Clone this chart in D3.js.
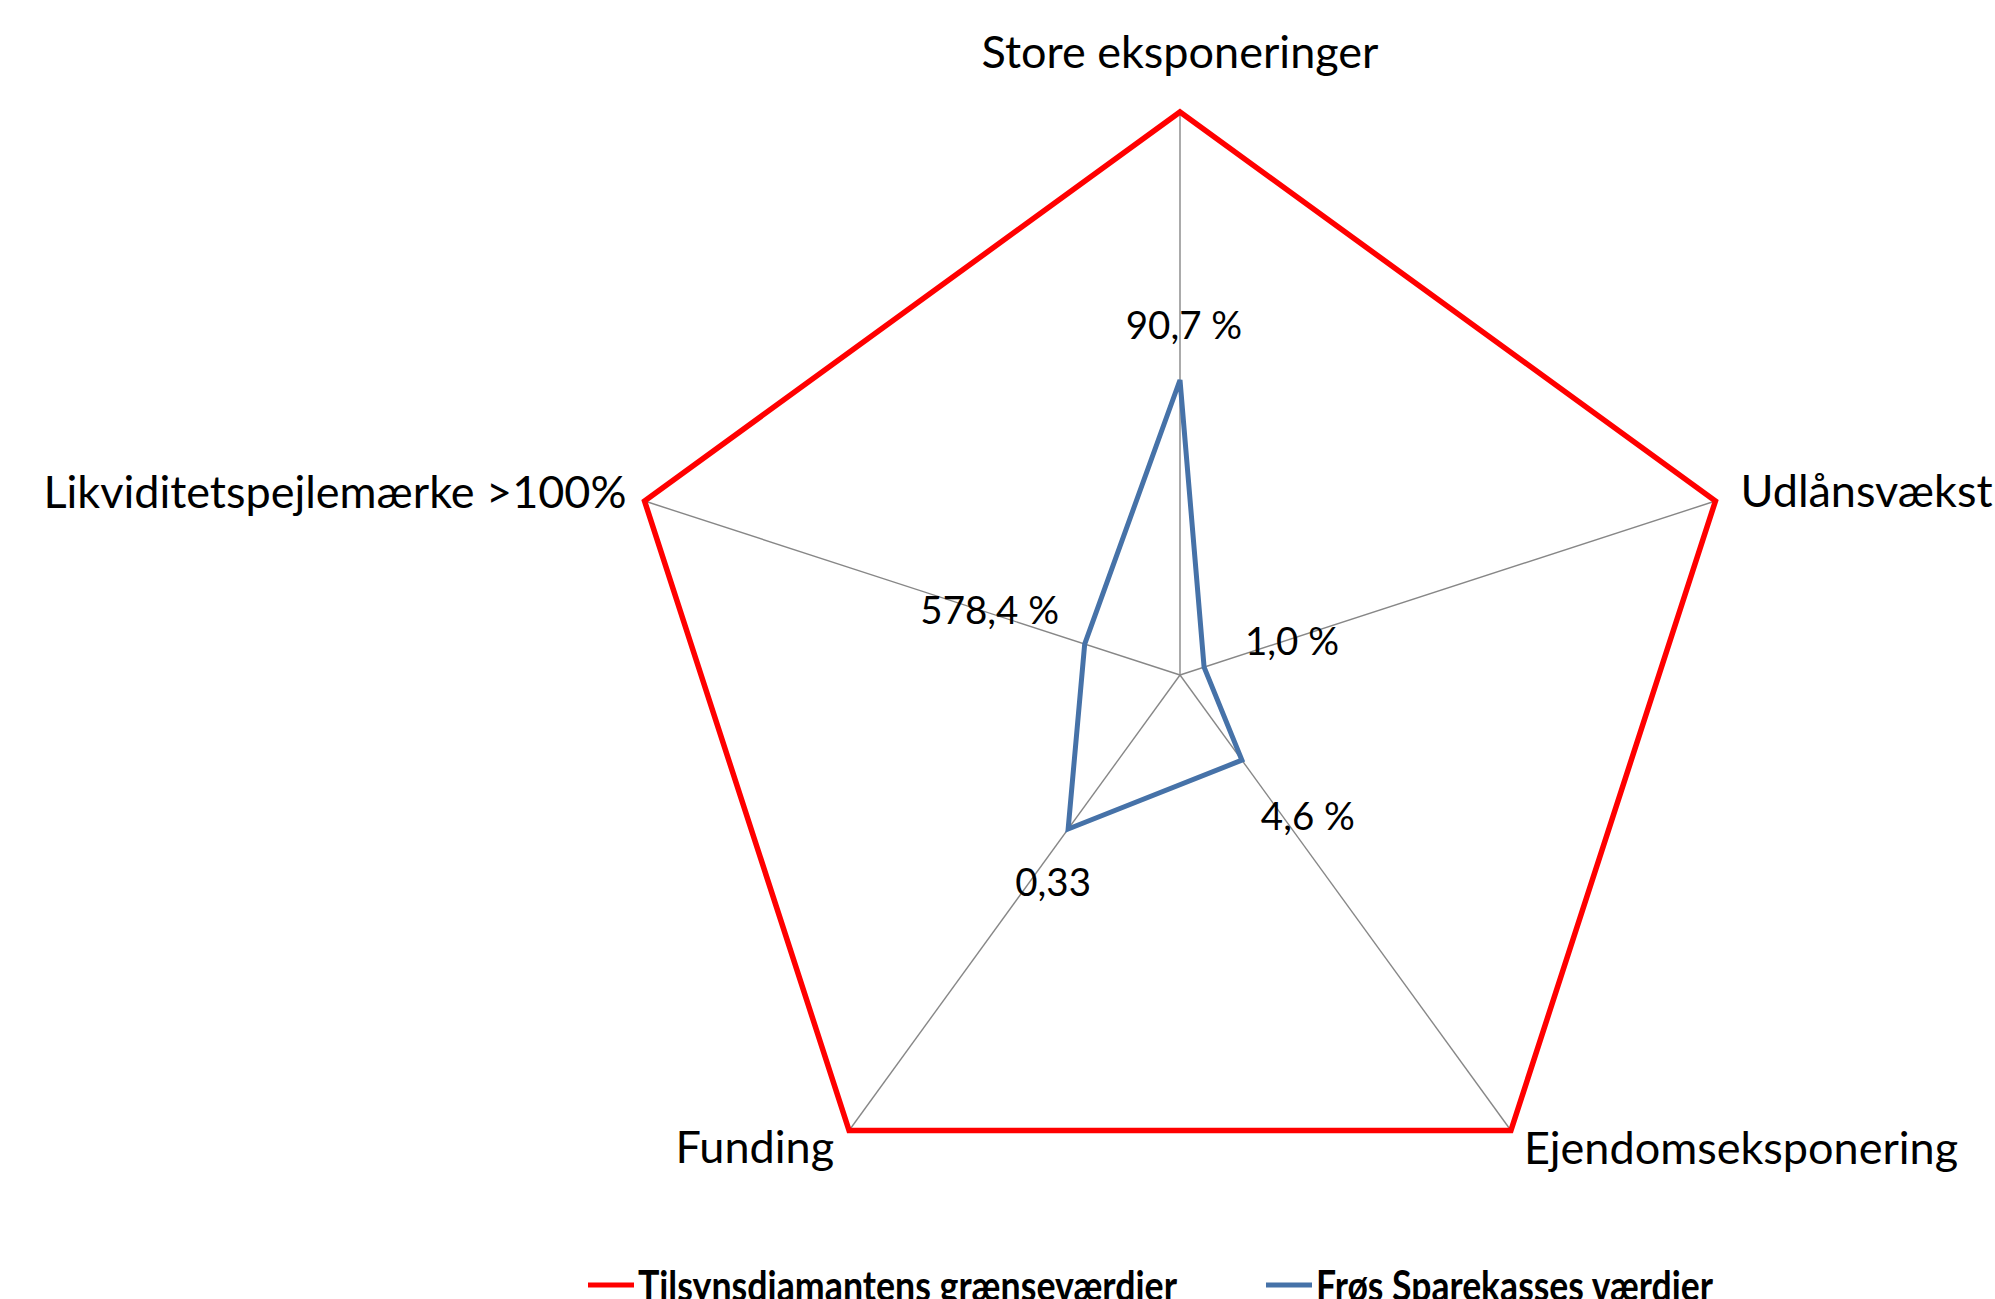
<!DOCTYPE html>
<html>
<head>
<meta charset="utf-8">
<script src="https://cdn.jsdelivr.net/npm/d3@7"></script>
<style>
  html, body { margin: 0; padding: 0; background: #fff; }
  svg { display: block; }
  text { font-family: Lato, "Open Sans", sans-serif; fill: #000; }
</style>
</head>
<body>
<svg class="chart"></svg>
<script>
// categories clockwise from top
var categories = ["Store eksponeringer", "Udlånsvækst", "Ejendomseksponering", "Funding", "Likviditetspejlemærke >100%"];
// limit values (the diamond boundary) and the bank's values, as share of the axis
var limitValues = [1, 1, 1, 1, 1];
var bankValues = [0.524, 0.045, 0.187, 0.338, 0.178];
var bankLabels = ["90,7 %", "1,0 %", "4,6 %", "0,33", "578,4 %"];
var seriesNames = ["Tilsynsdiamantens grænseværdier", "Frøs Sparekasses værdier"];

var frameWidth = 1995;
var frameHeight = 1299;
var cx = 1180, cy = 675;
var radius = 563;

// label placement (offsets from the marks they belong to)
var catOffsets = [[0, -44, "middle"], [25, 6, "start"], [13, 34, "start"], [-15, 33, "end"], [-18, 7, "end"]];
var valOffsets = [[4, -41], [88, -12], [66, 70], [-15, 67], [-95, -20]];

var rScale = d3.scaleLinear().domain([0, 1]).range([0, radius]);
var aScale = d3.scaleLinear().domain([0, categories.length]).range([0, 2 * Math.PI]);

function pt(i, v) {
  var a = aScale(i);
  return [cx + rScale(v) * Math.sin(a), cy - rScale(v) * Math.cos(a)];
}

var svg = d3.select(".chart").attr("width", frameWidth).attr("height", frameHeight);

// spokes
svg.append("g").selectAll("line").data(categories)
  .enter().append("line")
  .attr("x1", cx).attr("y1", cy)
  .attr("x2", function(d, i) { return pt(i, 1)[0]; })
  .attr("y2", function(d, i) { return pt(i, 1)[1]; })
  .attr("stroke", "#878787")
  .attr("stroke-width", 1.4);

var radial = d3.lineRadial()
  .angle(function(d, i) { return aScale(i); })
  .radius(function(d) { return rScale(d); })
  .curve(d3.curveLinearClosed);

var g = svg.append("g").attr("transform", "translate(" + cx + "," + cy + ")");

g.append("path").datum(limitValues)
  .attr("d", radial)
  .attr("fill", "none")
  .attr("stroke", "#ff0000")
  .attr("stroke-width", 5.5)
  .attr("stroke-linejoin", "miter");

g.append("path").datum(bankValues)
  .attr("d", radial)
  .attr("fill", "none")
  .attr("stroke", "#4672a8")
  .attr("stroke-width", 5)
  .attr("stroke-linejoin", "miter");

// category labels
svg.append("g").selectAll("text").data(categories)
  .enter().append("text")
  .attr("x", function(d, i) { return pt(i, 1)[0] + catOffsets[i][0]; })
  .attr("y", function(d, i) { return pt(i, 1)[1] + catOffsets[i][1]; })
  .attr("text-anchor", function(d, i) { return catOffsets[i][2]; })
  .style("font-size", "45px")
  .text(function(d) { return d; });

// value labels
svg.append("g").selectAll("text").data(bankValues)
  .enter().append("text")
  .attr("x", function(d, i) { return pt(i, d)[0] + valOffsets[i][0]; })
  .attr("y", function(d, i) { return pt(i, d)[1] + valOffsets[i][1]; })
  .attr("text-anchor", "middle")
  .style("font-size", "38.5px")
  .text(function(d, i) { return bankLabels[i]; });

// legend
var legendColors = ["#ff0000", "#4672a8"];
var legendX = [588, 1266];
var legendTextLen = [539, 397];
var leg = svg.append("g").selectAll("g").data(seriesNames)
  .enter().append("g")
  .attr("transform", function(d, i) { return "translate(" + legendX[i] + ",1285)"; });
leg.append("line")
  .attr("x1", 0).attr("x2", 46)
  .attr("stroke", function(d, i) { return legendColors[i]; })
  .attr("stroke-width", 5);
leg.append("text")
  .attr("x", 50).attr("y", 16)
  .attr("textLength", function(d, i) { return legendTextLen[i]; })
  .attr("lengthAdjust", "spacingAndGlyphs")
  .style("font-size", "42px")
  .style("font-weight", "bold")
  .text(function(d) { return d; });
</script>
</body>
</html>
